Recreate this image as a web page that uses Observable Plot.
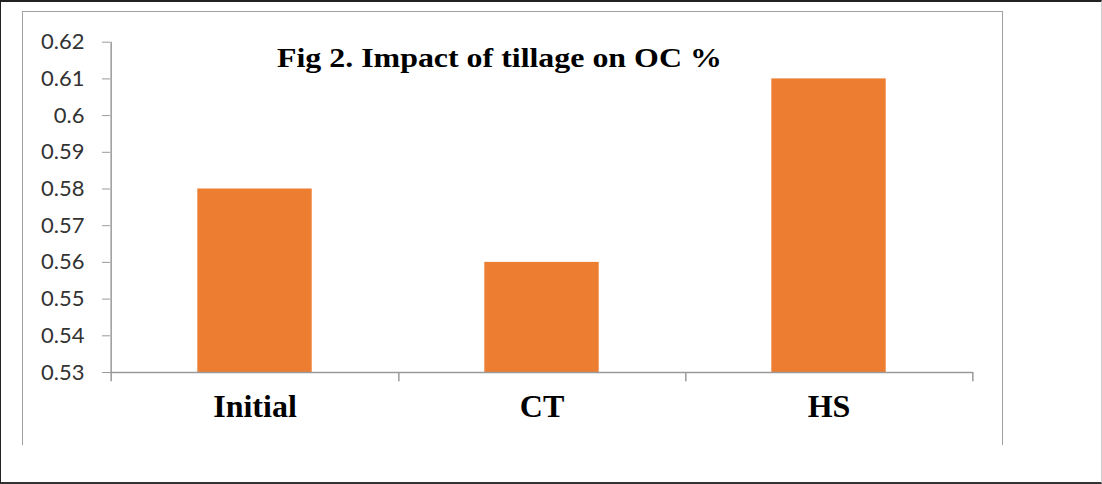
<!DOCTYPE html>
<html>
<head>
<meta charset="utf-8">
<script src="https://cdn.jsdelivr.net/npm/d3@7"></script>
<script src="https://cdn.jsdelivr.net/npm/@observablehq/plot@0.6"></script>
<style>
  html, body { margin: 0; padding: 0; background: #fff; }
  #wrap { position: relative; width: 1102px; height: 484px; overflow: hidden; }
  #outer { position: absolute; left: 0; top: 0; width: 1102px; height: 484px;
           border-top: 2px solid #222; border-left: 1px solid #222; border-bottom: 2px solid #333; border-right: 1px solid #ccc; box-sizing: border-box; }
  #inner { position: absolute; left: 22px; top: 11px; width: 981px; height: 434px;
           border-left: 1.5px solid #a0a0a0; border-top: 1.5px solid #a0a0a0; border-right: 1.5px solid #a0a0a0; box-sizing: border-box; }
  #title { position: absolute; left: 277px; top: 42px; font-family: "Liberation Serif", "Times New Roman", serif;
           font-weight: bold; font-size: 27.5px; color: #000; white-space: nowrap; transform-origin: 0 0; transform: scaleX(1.16); }
  #chart { position: absolute; left: 0; top: 0; }
</style>
</head>
<body>
<div id="wrap">
  <div id="outer"></div>
  <div id="inner"></div>
  <div id="chart"></div>
  <div id="title">Fig 2. Impact of tillage on OC %</div>
</div>
<script>
const categories = ["Initial", "CT", "HS"];
const values = [0.58, 0.56, 0.61];
const yTicks = [0.53, 0.54, 0.55, 0.56, 0.57, 0.58, 0.59, 0.6, 0.61, 0.62];

const data = categories.map((c, i) => ({category: c, value: values[i]}));

const W = 1102, H = 484;
const mL = 110, mR = 129, mT = 41.7, mB = 112;
const bw = (W - mL - mR) / categories.length;
const axisColor = "#9a9a9a";

const chart = Plot.plot({
  width: W,
  height: H,
  marginLeft: mL,
  marginRight: mR,
  marginTop: mT,
  marginBottom: mB,
  style: {background: "transparent", overflow: "visible"},
  x: {domain: categories, padding: 0, label: null},
  y: {domain: [0.53, 0.62], label: null},
  marks: [
    Plot.barY(data, {x: "category", y1: 0.53, y2: "value", fill: "#ED7D31", insetLeft: bw * 0.3, insetRight: bw * 0.3}),
    Plot.ruleY([0.53], {stroke: axisColor, strokeWidth: 1.5}),
    Plot.ruleX([categories[0]], {dx: -bw / 2, y1: 0.5275, y2: 0.62, stroke: axisColor, strokeWidth: 1.5}),
    Plot.ruleX(categories, {dx: bw / 2, y1: 0.5275, y2: 0.53, stroke: axisColor, strokeWidth: 1.5}),
    Plot.axisY({
      ticks: yTicks,
      tickSize: 8,
      tickPadding: 18,
      stroke: axisColor,
      tickFormat: d => String(+d.toFixed(2)),
      fontSize: 22,
      fontFamily: "Lato, 'Open Sans', sans-serif",
      fill: "#333",
      label: null
    }),
    Plot.axisX({
      tickSize: 0,
      tickPadding: 0,
      dy: 22,
      fontSize: 32,
      fontWeight: "bold",
      fontFamily: "'Liberation Serif', 'Times New Roman', serif",
      fill: "#000",
      label: null
    })
  ]
});
document.getElementById("chart").appendChild(chart);
</script>
</body>
</html>
